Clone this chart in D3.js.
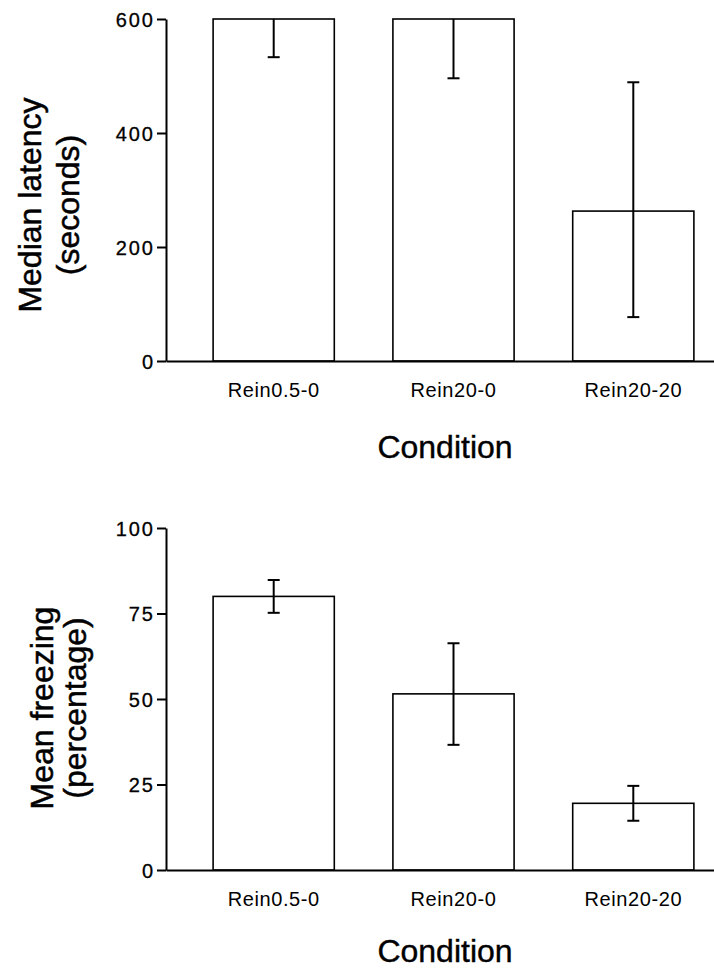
<!DOCTYPE html>
<html>
<head>
<meta charset="utf-8">
<script src="https://cdn.jsdelivr.net/npm/d3@7"></script>
<style>
  body { margin: 0; background: #fff; }
  svg { display: block; }
</style>
</head>
<body>
<svg width="714" height="972"></svg>
<script>
const svg = d3.select('svg');

// data
const conditions = ['Rein0.5-0', 'Rein20-0', 'Rein20-20'];

const latencyMedian = [600, 600, 263];
const latencyUpper = [600, 600, 489];
const latencyLower = [533, 496, 77];
const latencyTicks = [0, 200, 400, 600];

const freezingMean = [80, 51.5, 19.5];
const freezingUpper = [84.8, 66.3, 24.6];
const freezingLower = [75.2, 36.6, 14.4];
const freezingTicks = [0, 25, 50, 75, 100];

const axisX = 166;

const xScale = d3.scaleBand()
    .domain(conditions)
    .range([axisX, 741])
    .paddingInner(0.326)
    .paddingOuter(0.262);

let drawPanel = (opts) => {
    const yScale = d3.scaleLinear()
        .domain([0, opts.max])
        .range([opts.bottom, opts.top]);

    const g = svg.append('g');

    const rows = conditions.map((c, i) => ({
        name: c, value: opts.values[i], hi: opts.upper[i], lo: opts.lower[i]
    }));

    // bars
    g.selectAll('.bar')
        .data(rows)
        .enter().append('rect')
        .attr('class', 'bar')
        .attr('x', d => xScale(d.name))
        .attr('y', d => yScale(d.value))
        .attr('width', xScale.bandwidth())
        .attr('height', d => opts.bottom - yScale(d.value))
        .style('fill', '#fff')
        .style('stroke', '#000')
        .style('stroke-width', 1.6);

    // error bars
    const cx = d => xScale(d.name) + xScale.bandwidth() / 2;
    const err = g.selectAll('.err')
        .data(rows)
        .enter().append('g')
        .attr('class', 'err')
        .style('stroke', '#000')
        .style('stroke-width', 2);
    err.append('line')
        .attr('x1', cx).attr('x2', cx)
        .attr('y1', d => yScale(d.hi))
        .attr('y2', d => yScale(d.lo));
    err.append('line')
        .attr('x1', d => cx(d) - 6).attr('x2', d => cx(d) + 6)
        .attr('y1', d => yScale(d.lo)).attr('y2', d => yScale(d.lo));
    err.filter(d => d.hi > d.value).append('line')
        .attr('x1', d => cx(d) - 6).attr('x2', d => cx(d) + 6)
        .attr('y1', d => yScale(d.hi)).attr('y2', d => yScale(d.hi));

    // y axis
    const yAxis = d3.axisLeft(yScale)
        .tickValues(opts.ticks)
        .tickSize(9)
        .tickSizeOuter(0)
        .tickPadding(4);
    const ya = g.append('g')
        .attr('class', 'y-axis')
        .attr('transform', 'translate(' + axisX + ',0)')
        .call(yAxis);
    ya.selectAll('path, line').style('stroke', '#000').style('stroke-width', 2);
    ya.selectAll('text')
        .style('font-family', 'Liberation Sans')
        .style('font-size', '20px')
        .style('letter-spacing', '2px')
        .style('stroke', '#000')
        .style('stroke-width', 0.3)
        .attr('dx', '2px')
        .attr('dy', '0.36em')
        .style('fill', '#000');

    // x axis
    const xAxis = d3.axisBottom(xScale).tickSize(0).tickSizeOuter(0);
    const xa = g.append('g')
        .attr('class', 'x-axis')
        .attr('transform', 'translate(0,' + opts.bottom + ')')
        .call(xAxis);
    xa.select('path').style('stroke', '#000').style('stroke-width', 2);
    xa.selectAll('text')
        .attr('y', 36).attr('dy', 0)
        .style('font-family', 'Liberation Sans')
        .style('font-size', '20px')
        .style('letter-spacing', '0.6px')
        .style('fill', '#000');

    // axis titles
    g.append('text')
        .attr('x', 445)
        .attr('y', opts.bottom + opts.condGap)
        .style('text-anchor', 'middle')
        .style('font-family', 'Liberation Sans')
        .style('font-size', '32px')
        .style('stroke', '#000')
        .style('stroke-width', 0.4)
        .text('Condition');

    const title = g.append('text')
        .attr('transform', 'translate(' + opts.titleX + ',' + opts.titleY + ') rotate(-90)')
        .style('text-anchor', 'middle')
        .style('font-family', 'Liberation Sans')
        .style('font-size', '32px')
        .style('stroke', '#000')
        .style('stroke-width', 0.5);
    title.append('tspan').attr('x', 0).attr('y', 0).text(opts.title[0]);
    title.append('tspan').attr('x', 0).attr('y', opts.lineGap).text(opts.title[1]);
};

drawPanel({
    values: latencyMedian, upper: latencyUpper, lower: latencyLower,
    ticks: latencyTicks, max: 600, top: 19, bottom: 361,
    title: ['Median latency', '(seconds)'], titleX: 41, titleY: 205, lineGap: 38,
    condGap: 97
});

drawPanel({
    values: freezingMean, upper: freezingUpper, lower: freezingLower,
    ticks: freezingTicks, max: 100, top: 528, bottom: 870,
    title: ['Mean freezing', '(percentage)'], titleX: 53, titleY: 708, lineGap: 33,
    condGap: 92
});
</script>
</body>
</html>
